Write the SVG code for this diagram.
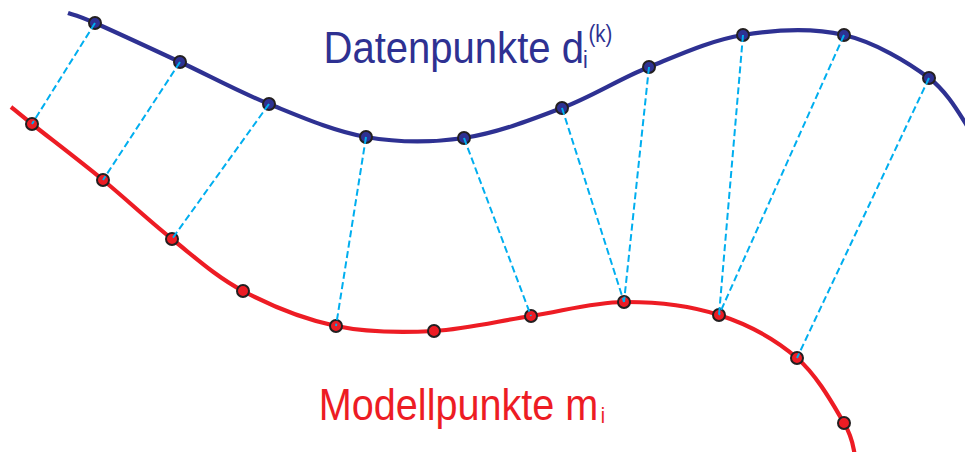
<svg xmlns="http://www.w3.org/2000/svg" width="965" height="452" viewBox="0 0 965 452">
<style>
.curve{fill:none;stroke-width:4.2;stroke-linecap:butt}
.blue{stroke:#2E3192}
.red{stroke:#ED1C24}
.pt{stroke:#231F20;stroke-width:2}
.pb{fill:#2E3192}
.pr{fill:#ED1C24}
.link{stroke:#00AEEF;stroke-width:2;stroke-dasharray:7 3.5;fill:none}
.lbl{font-family:"Liberation Sans",Arial,sans-serif}
</style>
<rect width="965" height="452" fill="#fff"/>
<g id="curves">
<path class="curve blue" d="M68,13 C72.5,14.7 76.3,14.8 95,23 C113.7,31.2 151,48.5 180,62 C209,75.5 238,91.5 269,104 C300,116.5 333.5,131.3 366,137 C398.5,142.7 431.3,142.8 464,138 C496.7,133.2 531.2,119.8 562,108 C592.8,96.2 618.8,79.2 649,67 C679.2,54.8 710.5,40.3 743,35 C775.5,29.7 813,27.8 844,35 C875,42.2 908,62.2 929,78 C950,93.8 963.2,121.3 970,130"/>
<path class="curve red" d="M11,107 C14.5,109.8 16.7,111.8 32,124 C47.3,136.2 79.7,160.8 103,180 C126.3,199.2 148.7,220.5 172,239 C195.3,257.5 215.7,276.5 243,291 C270.3,305.5 304.2,319.3 336,326 C367.8,332.7 401.5,332.7 434,331 C466.5,329.3 499.3,320.8 531,316 C562.7,311.2 592.7,302.2 624,302 C655.3,301.8 690.2,305.7 719,315 C747.8,324.3 776.2,340 797,358 C817.8,376 834.3,406.8 844,423 C853.7,439.2 853.2,449.7 855,455"/>
</g>
<g id="datenpunkte">
<g id="d1"><circle class="pt pb" cx="95" cy="23" r="6"/></g>
<g id="d2"><circle class="pt pb" cx="180" cy="62" r="6"/></g>
<g id="d3"><circle class="pt pb" cx="269" cy="104" r="6"/></g>
<g id="d4"><circle class="pt pb" cx="366" cy="137" r="6"/></g>
<g id="d5"><circle class="pt pb" cx="464" cy="138" r="6"/></g>
<g id="d6"><circle class="pt pb" cx="562" cy="108" r="6"/></g>
<g id="d7"><circle class="pt pb" cx="649" cy="67" r="6"/></g>
<g id="d8"><circle class="pt pb" cx="743" cy="35" r="6"/></g>
<g id="d9"><circle class="pt pb" cx="844" cy="35" r="6"/></g>
<g id="d10"><circle class="pt pb" cx="929" cy="78" r="6"/></g>
</g>
<g id="modellpunkte">
<g id="m1"><circle class="pt pr" cx="32" cy="124" r="6"/></g>
<g id="m2"><circle class="pt pr" cx="103" cy="180" r="6"/></g>
<g id="m3"><circle class="pt pr" cx="172" cy="239" r="6"/></g>
<g id="m4"><circle class="pt pr" cx="243" cy="291" r="6"/></g>
<g id="m5"><circle class="pt pr" cx="336" cy="326" r="6"/></g>
<g id="m6"><circle class="pt pr" cx="434" cy="331" r="6"/></g>
<g id="m7"><circle class="pt pr" cx="531" cy="316" r="6"/></g>
<g id="m8"><circle class="pt pr" cx="624" cy="302" r="6"/></g>
<g id="m9"><circle class="pt pr" cx="719" cy="315" r="6"/></g>
<g id="m10"><circle class="pt pr" cx="797" cy="358" r="6"/></g>
<g id="m11"><circle class="pt pr" cx="844" cy="423" r="6"/></g>
</g>
<g id="connectors">
<line class="link" x1="95" y1="23" x2="32" y2="124"/>
<line class="link" x1="180" y1="62" x2="103" y2="180"/>
<line class="link" x1="269" y1="104" x2="172" y2="239"/>
<line class="link" x1="366" y1="137" x2="336" y2="326"/>
<line class="link" x1="464" y1="138" x2="531" y2="316"/>
<line class="link" x1="562" y1="108" x2="624" y2="302"/>
<line class="link" x1="649" y1="67" x2="624" y2="302"/>
<line class="link" x1="743" y1="35" x2="719" y2="315"/>
<line class="link" x1="844" y1="35" x2="719" y2="315"/>
<line class="link" x1="929" y1="78" x2="797" y2="358"/>
</g>
<g id="label-daten" class="lbl" fill="#2E3192" transform="translate(323.5,63) scale(0.89,1)">
<text x="0" y="0" font-size="45">Datenpunkte d</text>
<text x="291.5" y="5" font-size="24">i</text>
<text x="297.8" y="-21" font-size="23">(k)</text>
</g>
<g id="label-modell" class="lbl" fill="#ED1C24" transform="translate(318.8,420) scale(0.88,1)">
<text x="0" y="0" font-size="45">Modellpunkte m</text>
<text x="320.3" y="3" font-size="22">i</text>
</g>
</svg>
